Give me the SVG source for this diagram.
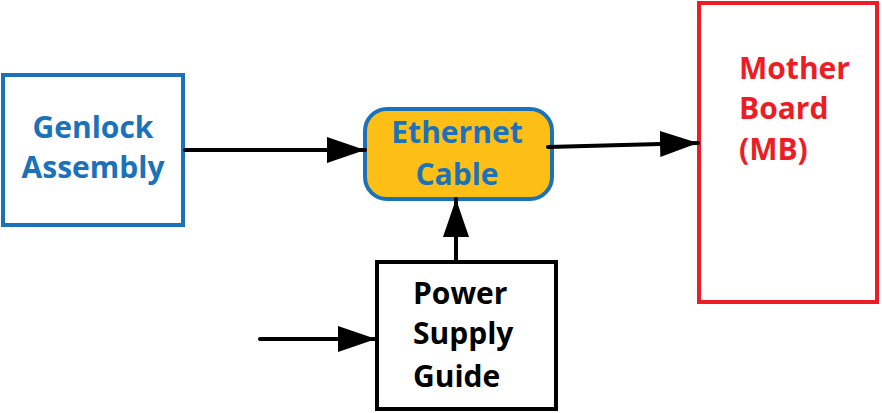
<svg xmlns="http://www.w3.org/2000/svg" width="882" height="413" viewBox="0 0 882 413">
<style>
.t{font-family:"Open Sans","Noto Sans","Liberation Sans",sans-serif;font-weight:bold;font-size:30px}
.blue{fill:#1B72BA}
.red{fill:#EE1C25}
.blk{fill:#000}
.c{stroke:#000;stroke-width:4;fill:none;stroke-linecap:round}
</style>
<defs>
<marker id="ah" markerUnits="userSpaceOnUse" markerWidth="40" markerHeight="28" refX="38" refY="13" orient="auto">
<path d="M0,0 L38,13 L0,26 Z" fill="#000"/>
</marker>
</defs>
<rect width="882" height="413" fill="#fff"/>
<g id="genlock">
<rect x="3" y="75" width="180" height="150" fill="#fff" stroke="#1B72BA" stroke-width="4"/>
<text class="t blue" x="93" y="138" text-anchor="middle">Genlock</text>
<text class="t blue" x="93" y="178" text-anchor="middle">Assembly</text>
</g>
<g id="ethernet">
<rect x="365" y="109" width="187" height="90" rx="22" fill="#FDBE16" stroke="#1B72BA" stroke-width="4"/>
<text class="t blue" x="457" y="143" text-anchor="middle">Ethernet</text>
<text class="t blue" x="457" y="185" text-anchor="middle">Cable</text>
</g>
<g id="motherboard">
<rect x="699" y="3" width="178" height="299" fill="#fff" stroke="#EE1C25" stroke-width="4"/>
<text class="t red" x="739" y="79">Mother</text>
<text class="t red" x="739" y="119">Board</text>
<text class="t red" x="739" y="160">(MB)</text>
</g>
<g id="power">
<rect x="377" y="262" width="179" height="147" fill="#fff" stroke="#000" stroke-width="4"/>
<text class="t blk" x="413" y="304">Power</text>
<text class="t blk" x="413" y="344">Supply</text>
<text class="t blk" x="413" y="387">Guide</text>
</g>
<g id="connectors">
<line class="c" x1="185" y1="150" x2="365" y2="150" marker-end="url(#ah)"/>
<line class="c" x1="548" y1="147" x2="698" y2="143" marker-end="url(#ah)"/>
<line class="c" x1="456" y1="260" x2="456" y2="199" marker-end="url(#ah)"/>
<line class="c" x1="260" y1="339" x2="376" y2="339" marker-end="url(#ah)"/>
</g>
</svg>
